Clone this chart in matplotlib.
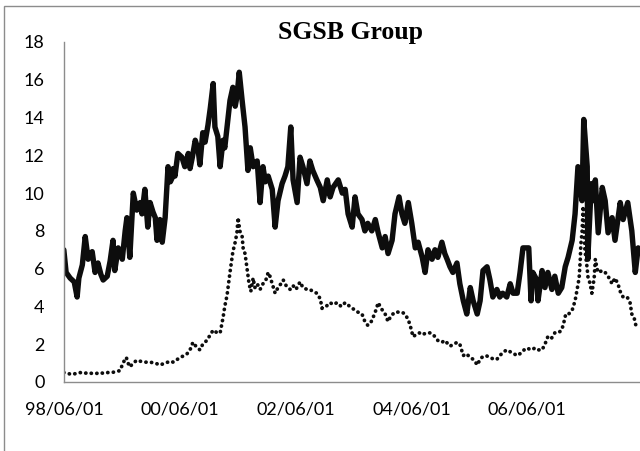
import matplotlib
matplotlib.use("Agg")
import matplotlib.pyplot as plt
import matplotlib.dates as mdates
from matplotlib.patches import Rectangle
import numpy as np
import pandas as pd

title = "SGSB Group"

# Upper series: decimal year, value
upper_year = [
    1998.41, 1998.45, 1998.52, 1998.59, 1998.64, 1998.67, 1998.73, 1998.78, 1998.83, 1998.90,
    1998.95, 1999.00, 1999.05, 1999.09, 1999.16, 1999.21, 1999.26, 1999.29, 1999.35, 1999.42,
    1999.47, 1999.50, 1999.55, 1999.61, 1999.67, 1999.73, 1999.76, 1999.81, 1999.86, 1999.90,
    1999.95, 1999.99, 2000.02, 2000.07, 2000.11, 2000.16, 2000.21, 2000.25, 2000.28, 2000.30,
    2000.33, 2000.38, 2000.45, 2000.50, 2000.56, 2000.59, 2000.63, 2000.68, 2000.73, 2000.76,
    2000.81, 2000.85, 2000.90, 2000.94, 2000.99, 2001.02, 2001.07, 2001.11, 2001.16, 2001.19,
    2001.23, 2001.28, 2001.33, 2001.37, 2001.40, 2001.44, 2001.49, 2001.54, 2001.59, 2001.63,
    2001.68, 2001.71, 2001.75, 2001.80, 2001.85, 2001.89, 2001.94, 2002.01, 2002.06, 2002.11,
    2002.18, 2002.23, 2002.28, 2002.33, 2002.37, 2002.44, 2002.49, 2002.54, 2002.61, 2002.66,
    2002.71, 2002.78, 2002.84, 2002.89, 2002.96, 2003.01, 2003.06, 2003.15, 2003.22, 2003.27,
    2003.32, 2003.39, 2003.44, 2003.49, 2003.56, 2003.61, 2003.66, 2003.73, 2003.79, 2003.84,
    2003.91, 2003.96, 2004.01, 2004.08, 2004.13, 2004.20, 2004.25, 2004.30, 2004.36, 2004.42,
    2004.48, 2004.53, 2004.60, 2004.65, 2004.70, 2004.77, 2004.82, 2004.87, 2004.94, 2004.99,
    2005.03, 2005.08, 2005.13, 2005.20, 2005.25, 2005.31, 2005.37, 2005.43, 2005.48, 2005.55,
    2005.60, 2005.65, 2005.72, 2005.77, 2005.82, 2005.89, 2005.94, 2005.99, 2006.06, 2006.12,
    2006.17, 2006.24, 2006.29, 2006.34, 2006.44, 2006.48, 2006.51, 2006.58, 2006.60, 2006.67,
    2006.72, 2006.77, 2006.84, 2006.89, 2006.95, 2007.01, 2007.07, 2007.12, 2007.19, 2007.24,
    2007.29, 2007.36, 2007.39, 2007.45, 2007.46, 2007.52, 2007.55, 2007.59, 2007.64, 2007.71,
    2007.76, 2007.81, 2007.88, 2007.93, 2008.02, 2008.07, 2008.15, 2008.22, 2008.28, 2008.33,
]
upper_value = [
    7.0, 5.8, 5.5, 5.3, 4.5, 5.5, 6.2, 7.7, 6.5, 6.9,
    5.8, 6.3, 5.7, 5.4, 5.6, 6.4, 7.5, 5.9, 7.1, 6.5,
    8.0, 8.7, 6.6, 10.0, 9.1, 9.5, 8.9, 10.2, 8.2, 9.5,
    9.0, 8.7, 7.5, 8.6, 7.4, 8.7, 11.4, 10.6, 10.8, 11.3,
    10.9, 12.1, 11.9, 11.4, 12.1, 11.3, 11.9, 12.8, 12.3, 11.5,
    13.2, 12.7, 13.6, 14.5, 15.8, 13.5, 13.0, 11.4, 12.8, 12.4,
    13.5, 14.9, 15.6, 14.6, 15.1, 16.4, 14.9, 13.5, 11.2, 12.4,
    11.4, 11.6, 11.7, 9.5, 11.4, 10.6, 10.9, 10.2, 8.2, 9.6,
    10.5, 10.9, 11.4, 13.5, 10.7, 9.5, 11.9, 11.4, 10.5, 11.7,
    11.2, 10.7, 10.3, 9.6, 10.7, 9.8, 10.3, 10.7, 10.0, 10.2,
    8.9, 8.2, 9.8, 8.9, 8.6, 8.0, 8.4, 8.0, 8.6, 7.9,
    7.1, 7.7, 6.8, 7.5, 8.9, 9.8, 8.9, 8.4, 9.5, 8.4,
    7.1, 7.4, 6.6, 5.8, 7.0, 6.5, 7.0, 6.6, 7.4, 6.8,
    6.5, 6.1, 5.8, 6.3, 5.2, 4.3, 3.6, 5.0, 4.3, 3.6,
    4.3, 5.9, 6.1, 5.4, 4.5, 4.9, 4.5, 4.7, 4.5, 5.2,
    4.7, 4.7, 5.8, 7.1, 7.1, 4.3, 5.8, 5.4, 4.3, 5.9,
    5.0, 5.8, 4.9, 5.6, 4.7, 5.0, 6.1, 6.6, 7.5, 8.9,
    11.4, 9.6, 13.9, 11.4, 6.5, 10.5, 9.6, 10.7, 7.9, 10.3,
    9.6, 7.9, 8.7, 7.5, 9.5, 8.6, 9.5, 8.0, 5.8, 7.1,
]

# Lower series: decimal year, value
lower_year = [
    1998.41, 1998.48, 1998.55, 1998.62, 1998.69, 1998.76, 1998.83, 1998.90, 1998.97, 1999.04,
    1999.10, 1999.17, 1999.24, 1999.31, 1999.38, 1999.42, 1999.45, 1999.49, 1999.52, 1999.55,
    1999.61, 1999.67, 1999.73, 1999.81, 1999.90, 1999.99, 2000.07, 2000.16, 2000.25, 2000.30,
    2000.37, 2000.42, 2000.49, 2000.54, 2000.59, 2000.64, 2000.69, 2000.76, 2000.81, 2000.88,
    2000.94, 2000.99, 2001.06, 2001.11, 2001.16, 2001.19, 2001.23, 2001.28, 2001.33, 2001.37,
    2001.40, 2001.42, 2001.45, 2001.49, 2001.51, 2001.54, 2001.57, 2001.61, 2001.64, 2001.68,
    2001.71, 2001.75, 2001.80, 2001.85, 2001.90, 2001.94, 2001.97, 2002.01, 2002.06, 2002.11,
    2002.16, 2002.20, 2002.25, 2002.32, 2002.37, 2002.42, 2002.49, 2002.54, 2002.61, 2002.66,
    2002.71, 2002.78, 2002.84, 2002.87, 2002.94, 2003.01, 2003.06, 2003.13, 2003.20, 2003.27,
    2003.35, 2003.44, 2003.49, 2003.56, 2003.61, 2003.66, 2003.72, 2003.75, 2003.80, 2003.84,
    2003.89, 2003.96, 2004.01, 2004.06, 2004.13, 2004.20, 2004.25, 2004.30, 2004.36, 2004.41,
    2004.44, 2004.49, 2004.55, 2004.60, 2004.67, 2004.74, 2004.79, 2004.82, 2004.87, 2004.94,
    2004.99, 2005.05, 2005.08, 2005.15, 2005.20, 2005.25, 2005.31, 2005.36, 2005.43, 2005.48,
    2005.51, 2005.55, 2005.60, 2005.63, 2005.70, 2005.77, 2005.84, 2005.89, 2005.94, 2006.01,
    2006.06, 2006.12, 2006.18, 2006.24, 2006.29, 2006.36, 2006.41, 2006.48, 2006.55, 2006.60,
    2006.67, 2006.72, 2006.77, 2006.83, 2006.89, 2006.95, 2007.01, 2007.05, 2007.08, 2007.13,
    2007.19, 2007.24, 2007.27, 2007.31, 2007.33, 2007.34, 2007.36, 2007.38, 2007.39, 2007.41,
    2007.45, 2007.46, 2007.50, 2007.53, 2007.57, 2007.59, 2007.62, 2007.64, 2007.71, 2007.76,
    2007.81, 2007.88, 2007.93, 2007.98, 2008.03, 2008.07, 2008.14, 2008.19, 2008.22, 2008.26,
    2008.29, 2008.33,
]
lower_value = [
    0.5, 0.45, 0.4, 0.45, 0.5, 0.45, 0.5, 0.45, 0.45, 0.5,
    0.45, 0.5, 0.5, 0.55, 0.6, 0.9, 1.1, 1.3, 1.0, 0.8,
    1.0, 1.15, 1.1, 1.05, 1.05, 1.0, 0.9, 1.0, 1.1, 1.05,
    1.2, 1.3, 1.4, 1.5, 1.7, 2.1, 1.9, 1.7, 2.0, 2.2,
    2.5, 2.75, 2.6, 2.6, 3.4, 4.0, 4.6, 5.8, 6.9, 7.4,
    7.9, 8.7, 8.0, 7.7, 7.0, 6.8, 6.1, 5.2, 4.8, 5.5,
    5.0, 5.2, 4.9, 5.2, 5.4, 5.8, 5.6, 5.2, 4.7, 5.0,
    5.2, 5.4, 5.1, 4.9, 5.1, 4.9, 5.3, 5.0, 4.9, 4.9,
    4.8, 4.7, 4.4, 3.9, 4.0, 4.2, 4.1, 4.2, 4.0, 4.2,
    4.0, 3.8, 3.7, 3.6, 3.2, 3.0, 3.2, 3.4, 3.8, 4.2,
    3.9, 3.6, 3.2, 3.5, 3.7, 3.7, 3.7, 3.6, 3.3, 2.8,
    2.4, 2.5, 2.6, 2.5, 2.6, 2.6, 2.5, 2.4, 2.2, 2.1,
    2.2, 2.0, 1.9, 2.0, 2.1, 2.0, 1.4, 1.5, 1.3, 1.2,
    1.1, 0.9, 1.2, 1.3, 1.4, 1.3, 1.2, 1.2, 1.4, 1.6,
    1.7, 1.6, 1.5, 1.4, 1.5, 1.7, 1.8, 1.7, 1.8, 1.7,
    1.7, 2.0, 2.4, 2.3, 2.6, 2.6, 2.75, 3.2, 3.6, 3.6,
    3.8, 4.3, 4.8, 5.5, 6.5, 7.3, 7.9, 9.3, 8.5, 7.0,
    6.0, 5.6, 5.2, 4.7, 5.5, 6.5, 6.0, 5.8, 5.9, 5.8,
    5.6, 5.2, 5.5, 5.2, 4.7, 4.5, 4.5, 4.2, 3.6, 3.4,
    3.0, 3.1,
]

tick_dates = ["1998-06-01", "2000-06-01", "2002-06-01", "2004-06-01", "2006-06-01"]
y_ticks = [0, 2, 4, 6, 8, 10, 12, 14, 16, 18]


def to_dates(years):
    years = np.asarray(years, dtype=float)
    start = pd.Timestamp("1998-01-01")
    return start + pd.to_timedelta((years - 1998.0) * 365.25, unit="D")


fig = plt.figure(figsize=(6.4, 4.51), dpi=100)
fig.patch.set_facecolor("white")

# outer chart frame
fig.add_artist(Rectangle((4 / 640, -0.05), 1.2, (451 - 6) / 451 + 0.05,
                         transform=fig.transFigure, fill=False,
                         edgecolor="#8c8c8c", linewidth=1.0))

ax = fig.add_axes([64 / 640, (451 - 382) / 451, 1 - 64 / 640, (382 - 42) / 451])

ax.plot(to_dates(upper_year), upper_value, color="#0d0d0d", linewidth=3.9,
        solid_joinstyle="round", solid_capstyle="round")
ax.plot(to_dates(lower_year), lower_value, color="#0d0d0d", linewidth=2.7,
        linestyle=(0, (0.05, 1.45)), dash_capstyle="round")

ax.set_ylim(0, 18)
ax.set_yticks(y_ticks)
x0 = mdates.date2num(pd.Timestamp("1998-06-01"))
ax.set_xlim(x0, x0 + (640 - 64) / 57.9 * 365.25)
ax.set_xticks([mdates.date2num(pd.Timestamp(d)) for d in tick_dates])
ax.xaxis.set_major_formatter(mdates.DateFormatter("%y/%m/%d"))

for side in ("top", "right"):
    ax.spines[side].set_visible(False)
for side in ("left", "bottom"):
    ax.spines[side].set_color("#8c8c8c")
    ax.spines[side].set_linewidth(1.0)

ax.tick_params(axis="both", length=0, labelsize=13, colors="#000000")
ax.tick_params(axis="y", pad=14)
ax.tick_params(axis="x", pad=14)
for lab in ax.get_xticklabels() + ax.get_yticklabels():
    lab.set_fontfamily("Lato")

fig.text(351 / 640, 1 - 32 / 451, title, ha="center", va="center",
         fontsize=18.5, fontweight="bold", family="Liberation Serif")

fig.savefig("out.png", dpi=100, facecolor="white")
